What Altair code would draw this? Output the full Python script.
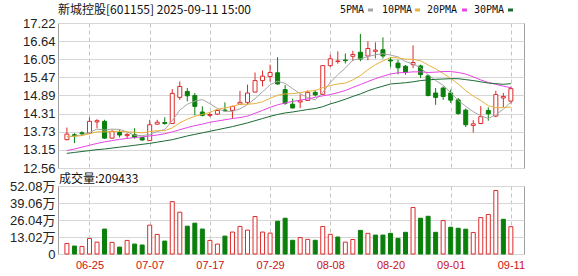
import altair as alt
import pandas as pd

stock_name = "新城控股"
stock_code = "601155"
timestamp = "2025-09-11 15:00"
last_volume = 209433

dates = ["06-20", "06-23", "06-24", "06-25", "06-26", "06-27", "06-30", "07-01", "07-02", "07-03",
         "07-04", "07-07", "07-08", "07-09", "07-10", "07-11", "07-14", "07-15", "07-16", "07-17",
         "07-18", "07-21", "07-22", "07-23", "07-24", "07-25", "07-28", "07-29", "07-30", "07-31",
         "08-01", "08-04", "08-05", "08-06", "08-07", "08-08", "08-11", "08-12", "08-13", "08-14",
         "08-15", "08-18", "08-19", "08-20", "08-21", "08-22", "08-25", "08-26", "08-27", "08-28",
         "08-29", "09-01", "09-02", "09-03", "09-04", "09-05", "09-08", "09-09", "09-10", "09-11"]

opens = [13.47, 13.63, 13.69, 13.68, 14.04, 14.06, 13.52, 13.70, 13.60, 13.63,
         13.54, 13.44, 13.97, 14.02, 13.99, 14.83, 15.02, 14.89, 14.36, 14.25,
         14.29, 14.42, 14.41, 14.61, 14.67, 15.00, 15.37, 15.50, 15.62, 15.08,
         14.61, 14.68, 14.73, 14.99, 14.93, 15.85, 15.98, 16.03, 16.15, 16.28,
         16.16, 16.31, 16.36, 16.03, 15.93, 15.83, 15.88, 15.84, 15.52, 14.97,
         15.13, 14.97, 14.75, 14.42, 13.93, 13.99, 14.41, 14.23, 14.81, 14.71]
highs = [13.86, 13.68, 13.74, 14.19, 14.13, 14.11, 13.79, 13.79, 13.68, 13.84,
         13.56, 14.11, 14.11, 14.19, 15.10, 15.34, 15.13, 14.97, 14.54, 14.36,
         14.43, 14.67, 14.56, 15.04, 15.24, 15.63, 15.69, 15.88, 16.12, 15.23,
         14.79, 14.93, 15.05, 15.07, 15.87, 16.20, 16.31, 16.24, 16.33, 16.87,
         16.63, 16.60, 16.76, 16.12, 16.04, 15.87, 16.50, 15.88, 15.56, 15.13,
         15.18, 15.08, 14.81, 14.47, 14.10, 14.55, 14.51, 15.04, 14.97, 15.18]
lows = [13.45, 13.36, 13.61, 13.66, 13.84, 13.50, 13.50, 13.54, 13.50, 13.50,
        13.44, 13.43, 13.95, 13.95, 13.98, 14.75, 14.70, 14.25, 14.22, 14.20,
        14.27, 14.38, 14.14, 14.60, 14.59, 14.99, 15.18, 15.34, 15.24, 14.59,
        14.47, 14.48, 14.72, 14.86, 14.91, 15.81, 15.91, 15.92, 15.99, 15.99,
        16.02, 16.08, 16.08, 15.81, 15.57, 15.56, 15.77, 15.45, 14.86, 14.59,
        14.75, 14.65, 14.27, 13.88, 13.70, 13.98, 14.08, 14.19, 14.51, 14.63]
closes = [13.65, 13.60, 13.66, 14.06, 14.08, 13.52, 13.73, 13.62, 13.64, 13.55,
          13.46, 13.95, 14.03, 13.99, 14.96, 15.18, 14.88, 14.54, 14.25, 14.28,
          14.41, 14.40, 14.54, 14.67, 14.97, 15.37, 15.51, 15.63, 15.26, 14.64,
          14.49, 14.72, 14.99, 14.91, 15.85, 16.07, 16.00, 16.01, 16.21, 16.06,
          16.40, 16.35, 16.16, 16.00, 15.78, 15.63, 15.95, 15.56, 14.89, 14.83,
          14.86, 14.74, 14.31, 13.95, 13.98, 14.21, 14.30, 14.92, 14.86, 15.11]
volumes = [8.1, 6.1, 5.8, 11.9, 9.1, 19.1, 8.9, 5.3, 10.4, 7.6,
           6.9, 22.1, 15.0, 9.9, 40.1, 32.0, 21.3, 23.6, 19.1, 10.4,
           7.6, 13.7, 16.8, 21.1, 18.3, 28.7, 16.8, 16.0, 25.1, 27.4,
           10.5, 12.6, 11.2, 10.5, 21.1, 15.1, 13.0, 9.1, 11.1, 18.1,
           15.8, 14.5, 14.5, 15.8, 12.0, 16.6, 35.6, 27.4, 28.9, 16.6,
           25.6, 20.5, 19.7, 19.0, 16.5, 27.9, 30.3, 48.6, 26.6, 20.94]

ma5 = [13.56, 13.58, 13.62, 13.70, 13.81, 13.78, 13.81, 13.80, 13.72, 13.61,
       13.60, 13.64, 13.73, 13.80, 14.08, 14.42, 14.61, 14.71, 14.76, 14.63,
       14.47, 14.38, 14.38, 14.46, 14.60, 14.79, 15.01, 15.23, 15.35, 15.28,
       15.11, 14.95, 14.82, 14.75, 14.99, 15.31, 15.56, 15.77, 16.03, 16.07,
       16.14, 16.20, 16.23, 16.19, 16.13, 15.98, 15.90, 15.78, 15.56, 15.37,
       15.22, 14.98, 14.73, 14.54, 14.37, 14.24, 14.15, 14.27, 14.45, 14.68]
ma10 = [13.58, 13.58, 13.60, 13.66, 13.72, 13.72, 13.74, 13.74, 13.72, 13.71,
        13.69, 13.73, 13.76, 13.76, 13.85, 14.01, 14.13, 14.22, 14.28, 14.35,
        14.45, 14.49, 14.54, 14.61, 14.61, 14.63, 14.69, 14.80, 14.90, 14.94,
        14.95, 14.98, 15.03, 15.05, 15.14, 15.21, 15.26, 15.29, 15.39, 15.53,
        15.72, 15.88, 16.00, 16.11, 16.10, 16.06, 16.05, 16.01, 15.87, 15.75,
        15.60, 15.44, 15.26, 15.05, 14.87, 14.73, 14.56, 14.50, 14.50, 14.52]
ma20 = [13.12, 13.17, 13.23, 13.29, 13.35, 13.40, 13.44, 13.48, 13.51, 13.54,
        13.56, 13.59, 13.62, 13.66, 13.72, 13.79, 13.86, 13.92, 13.97, 14.03,
        14.07, 14.11, 14.15, 14.18, 14.23, 14.32, 14.41, 14.51, 14.59, 14.65,
        14.70, 14.74, 14.78, 14.83, 14.88, 14.92, 14.98, 15.05, 15.15, 15.24,
        15.34, 15.43, 15.51, 15.58, 15.62, 15.63, 15.65, 15.65, 15.63, 15.64,
        15.66, 15.66, 15.63, 15.58, 15.49, 15.39, 15.31, 15.25, 15.19, 15.14]
ma30 = [13.03, 13.06, 13.09, 13.12, 13.15, 13.17, 13.20, 13.23, 13.26, 13.29,
        13.32, 13.35, 13.39, 13.43, 13.47, 13.53, 13.59, 13.64, 13.69, 13.74,
        13.79, 13.84, 13.89, 13.95, 14.01, 14.08, 14.15, 14.22, 14.28, 14.33,
        14.36, 14.40, 14.44, 14.47, 14.53, 14.62, 14.69, 14.77, 14.86, 14.94,
        15.04, 15.12, 15.19, 15.26, 15.28, 15.30, 15.33, 15.37, 15.39, 15.41,
        15.42, 15.43, 15.43, 15.40, 15.37, 15.33, 15.29, 15.27, 15.25, 15.27]

price_ticks = [12.56, 13.15, 13.73, 14.31, 14.89, 15.47, 16.05, 16.64, 17.22]
vol_ticks = [0, 13.02, 26.04, 39.06, 52.08]
date_ticks = ["06-25", "07-07", "07-17", "07-29", "08-08", "08-20", "09-01", "09-11"]
ma_names = ["5PMA", "10PMA", "20PMA", "30PMA"]

RED = "#dd2b2b"
GREEN = "#0b7f0b"
MA_COLORS = ["#a6a6a6", "#e8b23a", "#e645e6", "#1b6b34"]
FONT = "Liberation Sans, Noto Sans CJK SC"

PRICE_H = 145
VOL_H = 68

n = len(dates)
df = pd.DataFrame({
    "i": list(range(n)), "date": dates, "open": opens, "high": highs,
    "low": lows, "close": closes, "vol": volumes,
})
df["dir"] = ["up" if c >= o else "down" for o, c in zip(opens, closes)]
prev_close = [opens[0]] + closes[:-1]
df["vdir"] = ["up" if c >= p else "down" for c, p in zip(closes, prev_close)]

ma_df = pd.concat([
    pd.DataFrame({"i": list(range(n)), "value": vals, "series": name})
    for name, vals in zip(ma_names, [ma5, ma10, ma20, ma30])
])

tick_idx = [dates.index(d) for d in date_ticks]
label_expr = "[" + ",".join("'%s'" % d for d in dates) + "][datum.value]"

x_scale = alt.Scale(domain=[-0.52, 60.08], nice=False, zero=False)
py_scale = alt.Scale(domain=[12.56, 17.22], nice=False, zero=False)
vy_scale = alt.Scale(domain=[0, 52.08], nice=False)

grid_x = dict(values=tick_idx, grid=True, gridDash=[4, 3], gridColor="#c4c4c4",
              ticks=False, domain=False, title=None)
price_x_axis = alt.Axis(labels=False, minExtent=0, maxExtent=0, **grid_x)
vol_x_axis = alt.Axis(labelExpr=label_expr, labelColor="#cc1111", labelFontSize=11,
                      labelPadding=5, labelFont=FONT, **grid_x)
py_axis = alt.Axis(values=price_ticks, format=".2f", grid=True, gridColor="#d6d6d6",
                   ticks=False, domain=False, title=None, labelPadding=3,
                   labelFontSize=13, labelColor="#222222", labelFont=FONT)
vy_axis = alt.Axis(values=vol_ticks, grid=True, gridColor="#d6d6d6", ticks=False,
                   domain=False, title=None, labelPadding=3, labelFontSize=13,
                   labelColor="#222222", labelFont=FONT,
                   labelExpr="datum.value == 0 ? '0' : format(datum.value, '.2f') + '万'")

X = alt.X("i:Q", scale=x_scale, axis=price_x_axis)
stroke_enc = alt.Stroke("dir:N", scale=alt.Scale(domain=["up", "down"], range=[RED, GREEN]), legend=None)
fill_enc = alt.Fill("dir:N", scale=alt.Scale(domain=["up", "down"], range=["#ffffff", GREEN]), legend=None)

base = alt.Chart(df)
wicks = base.mark_rule(strokeWidth=1).encode(
    x=X, y=alt.Y("low:Q", scale=py_scale, axis=py_axis), y2="high:Q", stroke=stroke_enc)
bodies = base.mark_bar(size=4, strokeWidth=1).encode(
    x=X, y=alt.Y("open:Q", scale=py_scale, axis=py_axis), y2="close:Q",
    fill=fill_enc, stroke=stroke_enc)
lines = alt.Chart(ma_df).mark_line(strokeWidth=1).encode(
    x=X, y=alt.Y("value:Q", scale=py_scale, axis=py_axis),
    color=alt.Color("series:N", scale=alt.Scale(domain=ma_names, range=MA_COLORS), legend=None),
    order="i:Q")

title_layer = alt.Chart(pd.DataFrame({"t": [f"{stock_name}[{stock_code}] {timestamp}"]})).mark_text(
    align="left", baseline="middle", fontSize=12, font="Noto Sans CJK SC", color="#111111"
).encode(x=alt.value(0), y=alt.value(-13), text="t:N")

vol_label = alt.Chart(pd.DataFrame({"t": [f"成交量:{last_volume}"]})).mark_text(
    align="left", baseline="middle", fontSize=12, font="Noto Sans CJK SC", color="#111111"
).encode(x=alt.value(1), y=alt.value(PRICE_H + 11), text="t:N")

legend_layers = []
text_x = [282, 324, 369, 416]
sw_x = [310, 357, 404, 450]
for name, col, tx, sx in zip(ma_names, MA_COLORS, text_x, sw_x):
    legend_layers.append(
        alt.Chart(pd.DataFrame({"t": [name]})).mark_text(
            align="left", baseline="middle", fontSize=10, font="DejaVu Sans Mono", color="#111111"
        ).encode(x=alt.value(tx), y=alt.value(-13), text="t:N"))
    legend_layers.append(
        alt.Chart(pd.DataFrame({"t": [name]})).mark_rect(color=col).encode(
            x=alt.value(sx), x2=alt.value(sx + 5), y=alt.value(-14.5), y2=alt.value(-11.5)))

price = alt.layer(wicks, bodies, lines, title_layer, vol_label, *legend_layers).properties(
    width=466, height=PRICE_H)

vstroke = alt.Stroke("vdir:N", scale=alt.Scale(domain=["up", "down"], range=[RED, GREEN]), legend=None)
vfill = alt.Fill("vdir:N", scale=alt.Scale(domain=["up", "down"], range=["#ffffff", GREEN]), legend=None)
volume = alt.Chart(df).mark_bar(size=4, strokeWidth=1).encode(
    x=alt.X("i:Q", scale=x_scale, axis=vol_x_axis),
    y=alt.Y("vol:Q", scale=vy_scale, axis=vy_axis),
    fill=vfill, stroke=vstroke).properties(width=466, height=VOL_H)

chart = alt.vconcat(price, volume, spacing=-7).properties(
    padding={"left": 8, "top": 3, "right": 5, "bottom": 2},
    background="#ffffff",
).configure_view(stroke="#a0a0a0", strokeWidth=1)

chart.save("out.html", embed_options={"renderer": "svg", "actions": False})
